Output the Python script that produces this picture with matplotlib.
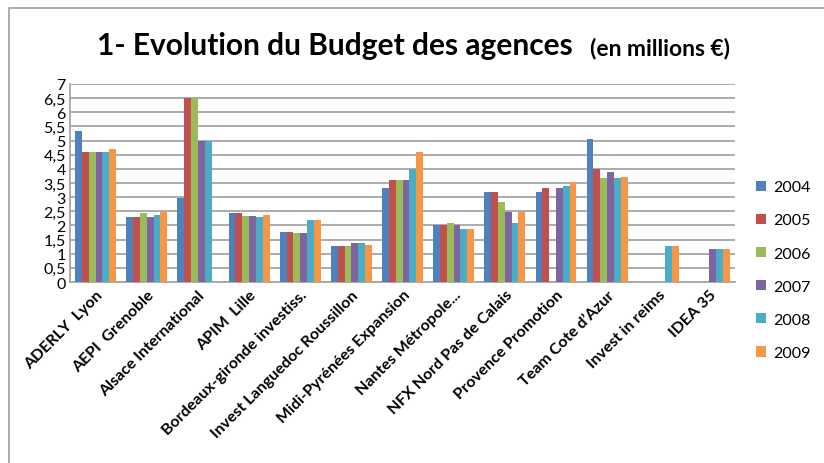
import numpy as np
import matplotlib
matplotlib.use('Agg')
import matplotlib.pyplot as plt
from matplotlib.lines import Line2D

plt.rcParams['font.family'] = ['Lato', 'DejaVu Sans']

# Données (en millions €)
agences = ['ADERLY  Lyon', 'AEPI  Grenoble', 'Alsace International', 'APIM  Lille',
           'Bordeaux-gironde investiss.', 'Invest Languedoc Roussillon',
           'Midi-Pyrénées Expansion', 'Nantes Métropole...', 'NFX Nord Pas de Calais',
           'Provence Promotion', 'Team Cote d’Azur', 'Invest in reims', 'IDEA 35']
annees = ['2004', '2005', '2006', '2007', '2008', '2009']
nan = np.nan
b2004 = [5.32, 2.29, 2.98, 2.44, 1.76, 1.27, 3.32, 2.00, 3.18, 3.18, 5.06, nan, nan]
b2005 = [4.59, 2.29, 6.50, 2.44, 1.76, 1.27, 3.61, 2.00, 3.18, 3.32, 4.00, nan, nan]
b2006 = [4.59, 2.44, 6.50, 2.35, 1.75, 1.27, 3.61, 2.07, 2.84, nan, 3.69, nan, nan]
b2007 = [4.59, 2.29, 5.00, 2.32, 1.73, 1.39, 3.61, 2.00, 2.49, 3.32, 3.89, nan, 1.18]
b2008 = [4.59, 2.38, 5.00, 2.29, 2.18, 1.39, 4.00, 1.86, 2.09, 3.39, 3.69, 1.27, 1.18]
b2009 = [4.71, 2.47, nan, 2.36, 2.20, 1.32, 4.61, 1.86, 2.49, 3.53, 3.70, 1.27, 1.18]
series = [b2004, b2005, b2006, b2007, b2008, b2009]
couleurs = ['#4F81BD', '#C0504D', '#9BBB59', '#8064A2', '#4BACC6', '#F79646']
yticks = [0, 0.5, 1, 1.5, 2, 2.5, 3, 3.5, 4, 4.5, 5, 5.5, 6, 6.5, 7]

fig = plt.figure(figsize=(8.24, 4.64), dpi=100)
ax = fig.add_axes([0.085, 0.39, 0.807, 0.427])

# cadre du graphique (seuls les bords gauche et haut sont visibles)
fig.lines.append(Line2D([0.0105, 0.0105, 1.0], [0.0, 0.981, 0.981], transform=fig.transFigure,
                        color='#A6A6A6', lw=1.3))

x = np.arange(len(agences))
w = 0.8 / 6
for i, (vals, c, an) in enumerate(zip(series, couleurs, annees)):
    ax.bar(x - 0.4 + w * (i + 0.5), vals, width=w, color=c, label=an, zorder=3)

ax.set_xlim(-0.5, len(agences) - 0.5)
ax.set_ylim(0, 7)
ax.set_yticks(yticks)
ax.set_yticklabels([('%g' % v).replace('.', ',') for v in yticks], fontsize=11.5)
ax.yaxis.grid(True, color='#A6A6A6', lw=1.3, zorder=0)
ax.set_axisbelow(True)
ax.tick_params(axis='y', length=0, pad=3)
ax.tick_params(axis='x', length=0, pad=4)
ax.set_xticks(x)
ax.set_xticklabels(agences, rotation=45, ha='right', rotation_mode='anchor',
                   fontsize=11.5, fontweight='bold')
for s in ['top', 'right']:
    ax.spines[s].set_visible(False)
ax.spines['left'].set_color('#A6A6A6')
ax.spines['bottom'].set_color('#A6A6A6')
ax.spines['left'].set_linewidth(1.3)
ax.spines['bottom'].set_linewidth(1.3)

fig.text(0.118, 0.9, '1- Evolution du Budget des agences', fontsize=21.5, fontweight='bold',
         va='center', ha='left')
fig.text(0.716, 0.895, '(en millions €)', fontsize=16.5, fontweight='bold', va='center', ha='left')

ax.legend(loc='center left', bbox_to_anchor=(1.01, 0.06), frameon=False, fontsize=11.5,
          handlelength=0.6, handleheight=0.6, labelspacing=1.2, handletextpad=0.5)

fig.savefig('out.png', dpi=100)
